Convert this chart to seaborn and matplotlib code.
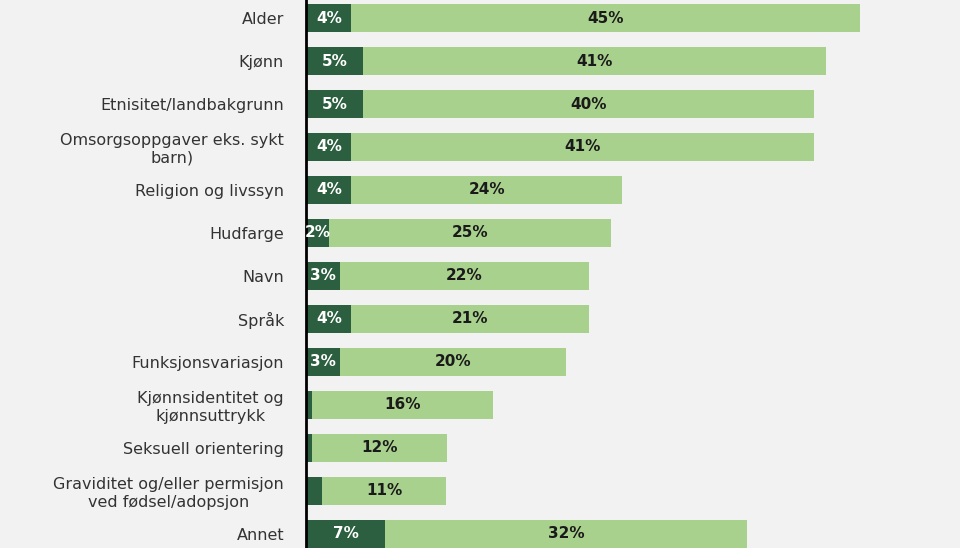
import matplotlib
matplotlib.use("Agg")
import matplotlib.pyplot as plt
import seaborn as sns
import pandas as pd

categories = ["Alder", "Kjønn", "Etnisitet/landbakgrunn", "Omsorgsoppgaver eks. sykt\nbarn)",
              "Religion og livssyn", "Hudfarge", "Navn", "Språk", "Funksjonsvariasjon",
              "Kjønnsidentitet og\nkjønnsuttrykk", "Seksuell orientering",
              "Graviditet og/eller permisjon\nved fødsel/adopsjon", "Annet"]
dark = [4, 5, 5, 4, 4, 2, 3, 4, 3, 0.5, 0.5, 1.4, 7]
light = [45, 41, 40, 41, 24, 25, 22, 21, 20, 16, 12, 11, 32]
dark_labels = ["4%", "5%", "5%", "4%", "4%", "2%", "3%", "4%", "3%", "", "", "", "7%"]
light_labels = ["45%", "41%", "40%", "41%", "24%", "25%", "22%", "21%", "20%", "16%", "12%", "11%", "32%"]

df = pd.DataFrame({"cat": categories, "dark": dark, "light": light})
df["total"] = df["dark"] + df["light"]

bg = "#f2f2f2"
fig = plt.figure(figsize=(9.6, 5.48), dpi=100, facecolor=bg)
ax = fig.add_axes([0.319, 0, 0.681, 1])
ax.set_facecolor(bg)
sns.barplot(data=df, y="cat", x="total", color="#a9d18e", saturation=1, width=0.65, ax=ax)
sns.barplot(data=df, y="cat", x="dark", color="#2b5f3f", saturation=1, width=0.65, ax=ax)
ax.set_ylim(12.33, -0.42)
ax.set_xlim(0, 57.9)
for i in range(len(categories)):
    if dark_labels[i]:
        ax.text(dark[i] / 2, i, dark_labels[i], ha="center", va="center", color="white",
                fontsize=11, fontweight="bold")
    ax.text(dark[i] + light[i] / 2, i, light_labels[i], ha="center", va="center", color="#1a1a1a",
            fontsize=11, fontweight="bold")
ax.set_xlabel("")
ax.set_ylabel("")
ax.set_xticks([])
for s in ["top", "right", "bottom"]:
    ax.spines[s].set_visible(False)
ax.spines["left"].set_color("black")
ax.spines["left"].set_linewidth(2)
ax.tick_params(axis="y", length=0, pad=16, labelsize=11.5, labelcolor="#333333")
for t in ax.get_yticklabels():
    t.set_multialignment("center")
fig.savefig("out.png", dpi=100, facecolor=bg)
